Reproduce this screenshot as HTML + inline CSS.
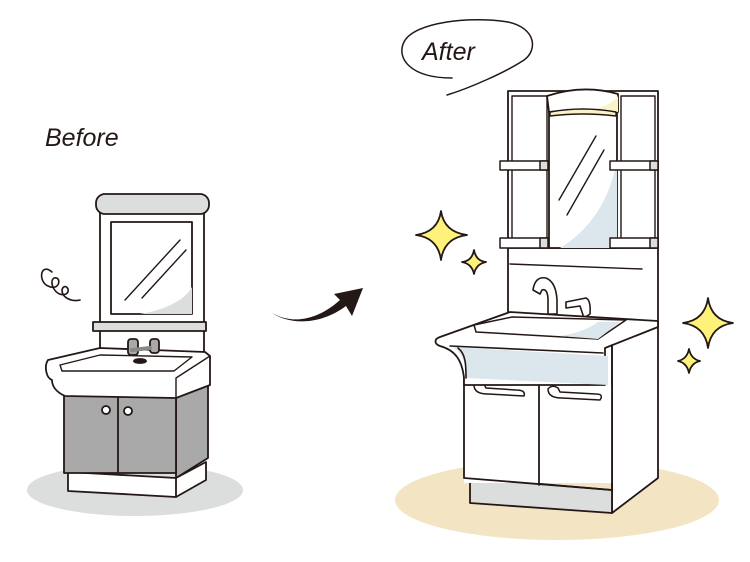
<!DOCTYPE html>
<html><head><meta charset="utf-8"><style>html,body{margin:0;padding:0;background:#fff}svg{display:block}</style></head><body>
<svg width="750" height="562" viewBox="0 0 750 562" xmlns="http://www.w3.org/2000/svg" stroke-linejoin="round" stroke-linecap="round">
<!-- floors -->
<ellipse cx="135" cy="490" rx="108" ry="26" fill="#dcdddd"/>
<ellipse cx="557" cy="500" rx="162" ry="40" fill="#f3e5c4"/>

<!-- BEFORE -->
<text x="45" y="146" font-family="Liberation Sans, sans-serif" font-style="italic" font-size="25" fill="#231815">Before</text>
<path d="M52,272 C40,262 38,282 48,286 C60,292 62,276 54,278 C48,282 56,298 66,294 C72,290 64,282 62,290 C62,298 72,302 80,300" fill="none" stroke="#231815" stroke-width="1.6"/>
<g stroke="#231815" stroke-width="1.8">
<!-- cabinet side/plinth -->
<path d="M176,395 L208,380 L208,458 L176,478 Z" fill="#a9a9a9"/>
<path d="M68,472 L176,478 L206,462 L206,480 L176,497 L68,491 Z" fill="#fff"/>
<path d="M176,478 L176,497" fill="none"/>
<rect x="64" y="393" width="112" height="80" fill="#a9a9a9"/>
<path d="M118,395 L118,472" fill="none"/>
<circle cx="106" cy="410" r="4" fill="#fff"/><circle cx="128" cy="411" r="4" fill="#fff"/>
<!-- mirror cabinet -->
<rect x="100" y="210" width="104" height="145" fill="#fff"/>
<rect x="111" y="222" width="81" height="92" fill="#fff"/>
<path d="M140,314 C165,310 185,300 192,287 L192,314 Z" fill="#dcdddd" stroke="none"/>
<path d="M125,300 L180,240 M142,298 L186,250" fill="none" stroke-width="1.4"/>
<rect x="96" y="194" width="113" height="20" rx="9" fill="#dcdddd"/>
<path d="M93,322 L206,322 L206,331 L93,331 Z" fill="#dcdddd"/>
<!-- basin -->
<path d="M48,360 L100,348 L205,352 L210,356 L210,385 L176,398 L65,396 C56,392 52,386 52,380 C46,378 44,366 48,360 Z" fill="#fff"/>
<path d="M60,365 L100,355 L192,357 L174,371 L62,371 Z" fill="#fff" stroke-width="1.4"/>
<path d="M176,398 L176,378 L210,356" fill="none" stroke-width="1.4"/>
<rect x="128" y="339" width="10" height="16" rx="3" fill="#a9a9a9"/>
<rect x="150" y="339" width="9" height="14" rx="3" fill="#a9a9a9"/>
<path d="M132,350 L150,348" stroke-width="4" stroke="#888"/>
<ellipse cx="140" cy="361" rx="6" ry="2" fill="#231815"/>
</g>

<!-- arrow -->
<path d="M272,313 C295,326 320,318 340,300 L334,294 L363,288 L352,316 L346,306 C322,324 292,326 272,313 Z" fill="#231815"/>

<!-- AFTER bubble -->
<path d="M452,78 C410,78 396,58 404,42 C414,22 470,16 508,22 C536,28 538,50 524,60 C506,72 470,88 447,95" fill="none" stroke="#231815" stroke-width="1.5"/>
<text x="422" y="60" font-family="Liberation Sans, sans-serif" font-style="italic" font-size="25" fill="#231815">After</text>

<!-- sparkles -->
<g fill="#fff27a" stroke="#231815" stroke-width="1.8">
<path d="M441,211 Q444,232 467,235 Q444,238 441,260 Q438,238 416,235 Q438,232 441,211 Z"/>
<path d="M474,250 Q476,261 486,262 Q476,264 474,274 Q472,264 462,262 Q472,261 474,250 Z"/>
<path d="M708,298 Q711,320 733,323 Q711,326 708,348 Q705,326 683,323 Q705,320 708,298 Z"/>
<path d="M689,349 Q691,359 700,361 Q691,363 689,373 Q687,363 678,361 Q687,359 689,349 Z"/>
</g>

<g stroke="#231815" stroke-width="1.8">
<!-- side panel & plinth -->
<path d="M612,345 L658,322 L658,478 L612,513 Z" fill="#fff"/>
<path d="M470,478 L612,490 L612,513 L470,503 Z" fill="#dcdddd"/>
<rect x="464" y="377" width="148" height="106" fill="#fff" stroke="none"/>
<path d="M464,377 L464,478 L612,490 L612,377" fill="none"/>
<path d="M539,382 L539,485" fill="none"/>
<path d="M474,385 Q478,380 484,384 L486,388 L516,390 Q526,390 524,396 L488,394 Q474,394 474,385 Z" fill="#fff" stroke-width="1.5"/>
<path d="M548,389 Q552,384 558,388 L560,392 L596,394 Q604,394 600,400 L562,398 Q548,398 548,389 Z" fill="#fff" stroke-width="1.5"/>
<!-- backsplash & mirror cabinet -->
<rect x="508" y="245" width="150" height="78" fill="#fff"/>
<path d="M510,264 L642,269" fill="none" stroke-width="1.4"/>
<rect x="508" y="91" width="150" height="157" fill="#fff"/>
<rect x="512" y="96" width="35" height="144" fill="#fff" stroke-width="1.4"/>
<rect x="621" y="96" width="34" height="144" fill="#fff" stroke-width="1.4"/>
<rect x="549" y="108" width="68" height="140" fill="#fff"/>
<path d="M560,248 C590,230 610,200 617,160 L617,248 Z" fill="#dbe6ed" stroke="none"/>
<path d="M559,200 L596,136 M567,215 L604,150" fill="none" stroke-width="1.4"/>
<path d="M547,96 Q583,84 618,94 L618,112 Q583,108 549,112 Z" fill="#fff"/>
<path d="M580,112 Q610,108 618,96 L618,112 Z" fill="#fbf3c8" stroke="none"/>
<path d="M550,112 Q583,106 616,112 L616,116 Q583,112 550,116 Z" fill="#fbf3c8" stroke-width="1.4"/>
<rect x="500" y="161" width="48" height="9" fill="#fff" stroke-width="1.5"/>
<rect x="540" y="161" width="8" height="9" fill="#dcdddd" stroke-width="1.5"/>
<rect x="610" y="161" width="48" height="9" fill="#fff" stroke-width="1.5"/>
<rect x="650" y="161" width="8" height="9" fill="#dcdddd" stroke-width="1.5"/>
<rect x="500" y="238" width="48" height="10" fill="#fff" stroke-width="1.5"/>
<rect x="540" y="238" width="8" height="10" fill="#dcdddd" stroke-width="1.5"/>
<rect x="610" y="238" width="48" height="10" fill="#fff" stroke-width="1.5"/>
<rect x="650" y="238" width="8" height="10" fill="#dcdddd" stroke-width="1.5"/>
<!-- faucet -->
<path d="M533,290 Q535,276 546,278 Q556,282 557,300 L557,314 L548,314 L548,298 Q547,288 542,290 L540,294 Z" fill="#fff" stroke-width="1.6"/>
<path d="M566,302 L586,298 Q591,300 590,314 L584,318 L580,306 L566,308 Z" fill="#fff" stroke-width="1.6"/>
<!-- counter -->
<path d="M440,337 L510,312 L658,321 L658,327 L605,348 L605,385 L464,385 L464,378 C462,360 455,350 440,346 C434,344 434,339 440,337 Z" fill="#fff"/>
<path d="M452,347 C462,352 466,362 466,378 L608,385 L608,356 L452,347 Z" fill="#dbe6ed" stroke="none"/>
<path d="M458,348 C466,354 466,366 466,378 M612,345 L612,385 M450,346 L603,353" fill="none" stroke-width="1.6"/>
<path d="M474,325 L512,317 L626,320 L598,339 L476,332 Z" fill="#fff" stroke-width="1.5"/>
<path d="M560,336 Q585,332 598,322 L620,322 L598,339 Z" fill="#dbe6ed" stroke="none"/>
</g>
</svg>
</body></html>
